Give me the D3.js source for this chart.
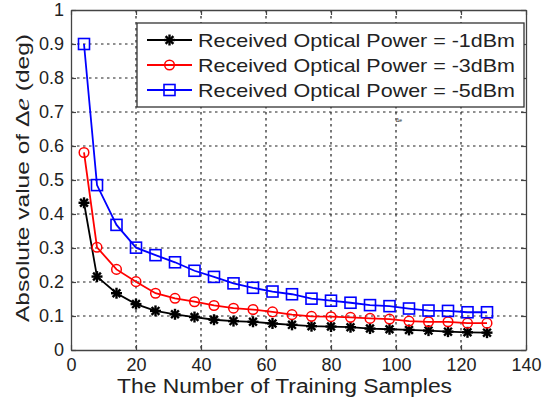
<!DOCTYPE html>
<html><head><meta charset="utf-8">
<script src="https://cdn.jsdelivr.net/npm/d3@7"></script>
<style>body{margin:0;background:#fff}svg{display:block}text{font-family:Arial,"Liberation Sans",sans-serif;fill:#222}</style>
</head><body><svg id="c" width="542" height="401"></svg>
<script>
const samples = [4, 8, 14, 20, 26, 32, 38, 44, 50, 56, 62, 68, 74, 80, 86, 92, 98, 104, 110, 116, 122, 128];
const power1 = [0.433, 0.216, 0.167, 0.135, 0.115, 0.105, 0.097, 0.089, 0.085, 0.083, 0.078, 0.074, 0.070, 0.069, 0.067, 0.063, 0.061, 0.059, 0.057, 0.054, 0.052, 0.051];
const power3 = [0.581, 0.302, 0.237, 0.201, 0.167, 0.152, 0.142, 0.131, 0.123, 0.119, 0.112, 0.104, 0.099, 0.098, 0.096, 0.093, 0.091, 0.085, 0.083, 0.083, 0.079, 0.079];
const power5 = [0.900, 0.485, 0.368, 0.301, 0.279, 0.258, 0.233, 0.215, 0.196, 0.183, 0.172, 0.164, 0.151, 0.145, 0.139, 0.132, 0.129, 0.122, 0.116, 0.115, 0.111, 0.111];
const seriesNames = ["Received Optical Power = -1dBm", "Received Optical Power = -3dBm", "Received Optical Power = -5dBm"];
const xTicks = [0, 20, 40, 60, 80, 100, 120, 140];
const yTicks = [0, 0.1, 0.2, 0.3, 0.4, 0.5, 0.6, 0.7, 0.8, 0.9, 1];

const svg = d3.select("#c");
const L = 71, R = 526, T = 10, B = 350;
const x = d3.scaleLinear().domain([0, 140]).range([L, R]);
const y = d3.scaleLinear().domain([0, 1]).range([B, T]);

// grid
const g = svg.append("g");
g.selectAll(".gx").data(xTicks.slice(1, -1)).join("line")
  .attr("x1", d => x(d)).attr("x2", d => x(d)).attr("y1", T).attr("y2", B)
  .attr("stroke", "#222").attr("stroke-width", 1.2).attr("stroke-dasharray", "2.5,3.5");
g.selectAll(".gy").data(yTicks.slice(1, -1)).join("line")
  .attr("y1", d => y(d)).attr("y2", d => y(d)).attr("x1", L).attr("x2", R)
  .attr("stroke", "#222").attr("stroke-width", 1.2).attr("stroke-dasharray", "2.5,3.5");

// axes (ticks inside, box)
const ax = d3.axisBottom(x).tickValues(xTicks).tickSizeInner(-5).tickSizeOuter(0).tickPadding(8).tickFormat(d3.format("d"));
const ay = d3.axisLeft(y).tickValues(yTicks).tickSizeInner(-5).tickSizeOuter(0).tickPadding(7).tickFormat(d => d === 0 || d === 1 ? d : d3.format(".1f")(d));
const axT = d3.axisTop(x).tickValues(xTicks).tickSizeInner(-5).tickSizeOuter(0).tickFormat("");
const ayR = d3.axisRight(y).tickValues(yTicks).tickSizeInner(-5).tickSizeOuter(0).tickFormat("");
function style(sel){ sel.selectAll("path").attr("stroke","#444").attr("stroke-width",1.3); sel.selectAll("line").attr("stroke","#444").attr("stroke-width",1.2); sel.selectAll("text").attr("font-size",18).attr("fill","#222").attr("font-family","Arial, Liberation Sans, sans-serif"); }
svg.append("g").attr("transform", `translate(0,${B})`).call(ax).call(style);
svg.append("g").attr("transform", `translate(${L},0)`).call(ay).call(style);
svg.append("g").attr("transform", `translate(0,${T})`).call(axT).call(style);
svg.append("g").attr("transform", `translate(${R},0)`).call(ayR).call(style);

// series
const series = [
  {vals: power1, color: "#000", marker: "star"},
  {vals: power3, color: "#f00", marker: "circle"},
  {vals: power5, color: "#00f", marker: "square"}
];
const line = d3.line().x(d => x(d[0])).y(d => y(d[1]));
function drawMarker(sel, type, color){
  if (type === "circle") {
    sel.append("circle").attr("r", 4.8).attr("fill", "none").attr("stroke", color).attr("stroke-width", 1.5);
  } else if (type === "square") {
    sel.append("rect").attr("x", -5.5).attr("y", -5.5).attr("width", 11).attr("height", 11).attr("fill", "none").attr("stroke", color).attr("stroke-width", 1.6);
  } else {
    const r = 5.5;
    for (let a = 0; a < 4; a++) {
      const t = a * Math.PI / 4;
      sel.append("line").attr("x1", -r*Math.cos(t)).attr("y1", -r*Math.sin(t)).attr("x2", r*Math.cos(t)).attr("y2", r*Math.sin(t))
        .attr("stroke", color).attr("stroke-width", 2.4);
    }
  }
}
series.forEach(s => {
  const pts = samples.map((v, i) => [v, s.vals[i]]);
  svg.append("path").datum(pts).attr("d", line).attr("fill", "none").attr("stroke", s.color).attr("stroke-width", 1.8);
  svg.append("g").selectAll("g").data(pts).join("g")
    .attr("transform", d => `translate(${x(d[0])},${y(d[1])})`)
    .each(function(){ drawMarker(d3.select(this), s.marker, s.color); });
});

// legend
const lg = svg.append("g");
lg.append("rect").attr("x", 137).attr("y", 23).attr("width", 387).attr("height", 84).attr("fill", "#fff").attr("stroke", "#333").attr("stroke-width", 1.3);
series.forEach((s, i) => {
  const yy = 40 + i * 25;
  lg.append("line").attr("x1", 147).attr("x2", 192).attr("y1", yy).attr("y2", yy).attr("stroke", s.color).attr("stroke-width", 1.8);
  const m = lg.append("g").attr("transform", `translate(169.5,${yy})`);
  drawMarker(m, s.marker, s.color);
  lg.append("text").attr("x", 198).attr("y", yy + 6.5).attr("font-size", 18.5)
    .attr("textLength", 317).attr("lengthAdjust", "spacingAndGlyphs").text(seriesNames[i]);
});

// labels
svg.append("text").attr("x", 117).attr("y", 393).attr("font-size", 19.5)
  .attr("textLength", 335).attr("lengthAdjust", "spacingAndGlyphs").text("The Number of Training Samples");
const yl = svg.append("text").attr("transform", `translate(29,322) rotate(-90)`).attr("font-size", 19)
  .attr("textLength", 288).attr("lengthAdjust", "spacingAndGlyphs");
yl.append("tspan").text("Absolute value of \u0394");
yl.append("tspan").attr("font-style", "italic").attr("font-family", "Times New Roman, Liberation Serif, serif").attr("font-size", 22).text("e");
yl.append("tspan").text("  (deg)");
svg.append("text").attr("x", 396).attr("y", 122).attr("font-size", 5).attr("fill", "#666").text("\u0394e");
</script></body></html>
